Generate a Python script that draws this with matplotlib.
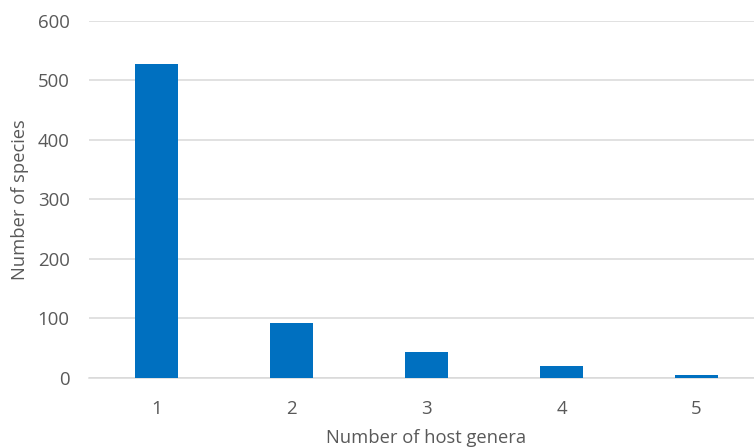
import numpy as np
import matplotlib.pyplot as plt

# species counts by number of host genera
host_genera = ["1", "2", "3", "4", "5"]
species = [527, 92, 44, 20, 5]

plt.rcParams["font.family"] = ["Open Sans", "DejaVu Sans"]
grey = "#595959"

fig = plt.figure(figsize=(7.54, 4.48), dpi=100)
ax = fig.add_axes([89 / 754, 1 - 377.7 / 448, 675 / 754, 357 / 448])

x = np.arange(len(host_genera))
ax.bar(x, species, width=0.32, color="#0070C0", zorder=3)

ax.set_xlim(-0.5, len(host_genera) - 0.5)
ax.set_ylim(0, 600)
ax.set_yticks(range(0, 601, 100))
ax.set_xticks(x)
ax.set_xticklabels(host_genera)

ax.yaxis.grid(True, color="#d9d9d9", linewidth=1.1, zorder=0)
for s in ["top", "right", "left"]:
    ax.spines[s].set_visible(False)
ax.spines["bottom"].set_color("#d9d9d9")
ax.spines["bottom"].set_linewidth(1.1)

ax.tick_params(axis="both", length=0, labelsize=13.4, colors=grey)
ax.tick_params(axis="y", pad=14)
ax.tick_params(axis="x", pad=16)

ax.set_xlabel("Number of host genera", fontsize=13.2, color=grey, labelpad=8)
ax.set_ylabel("Number of species", fontsize=13.2, color=grey, labelpad=6)

fig.savefig("out.png", dpi=100)
